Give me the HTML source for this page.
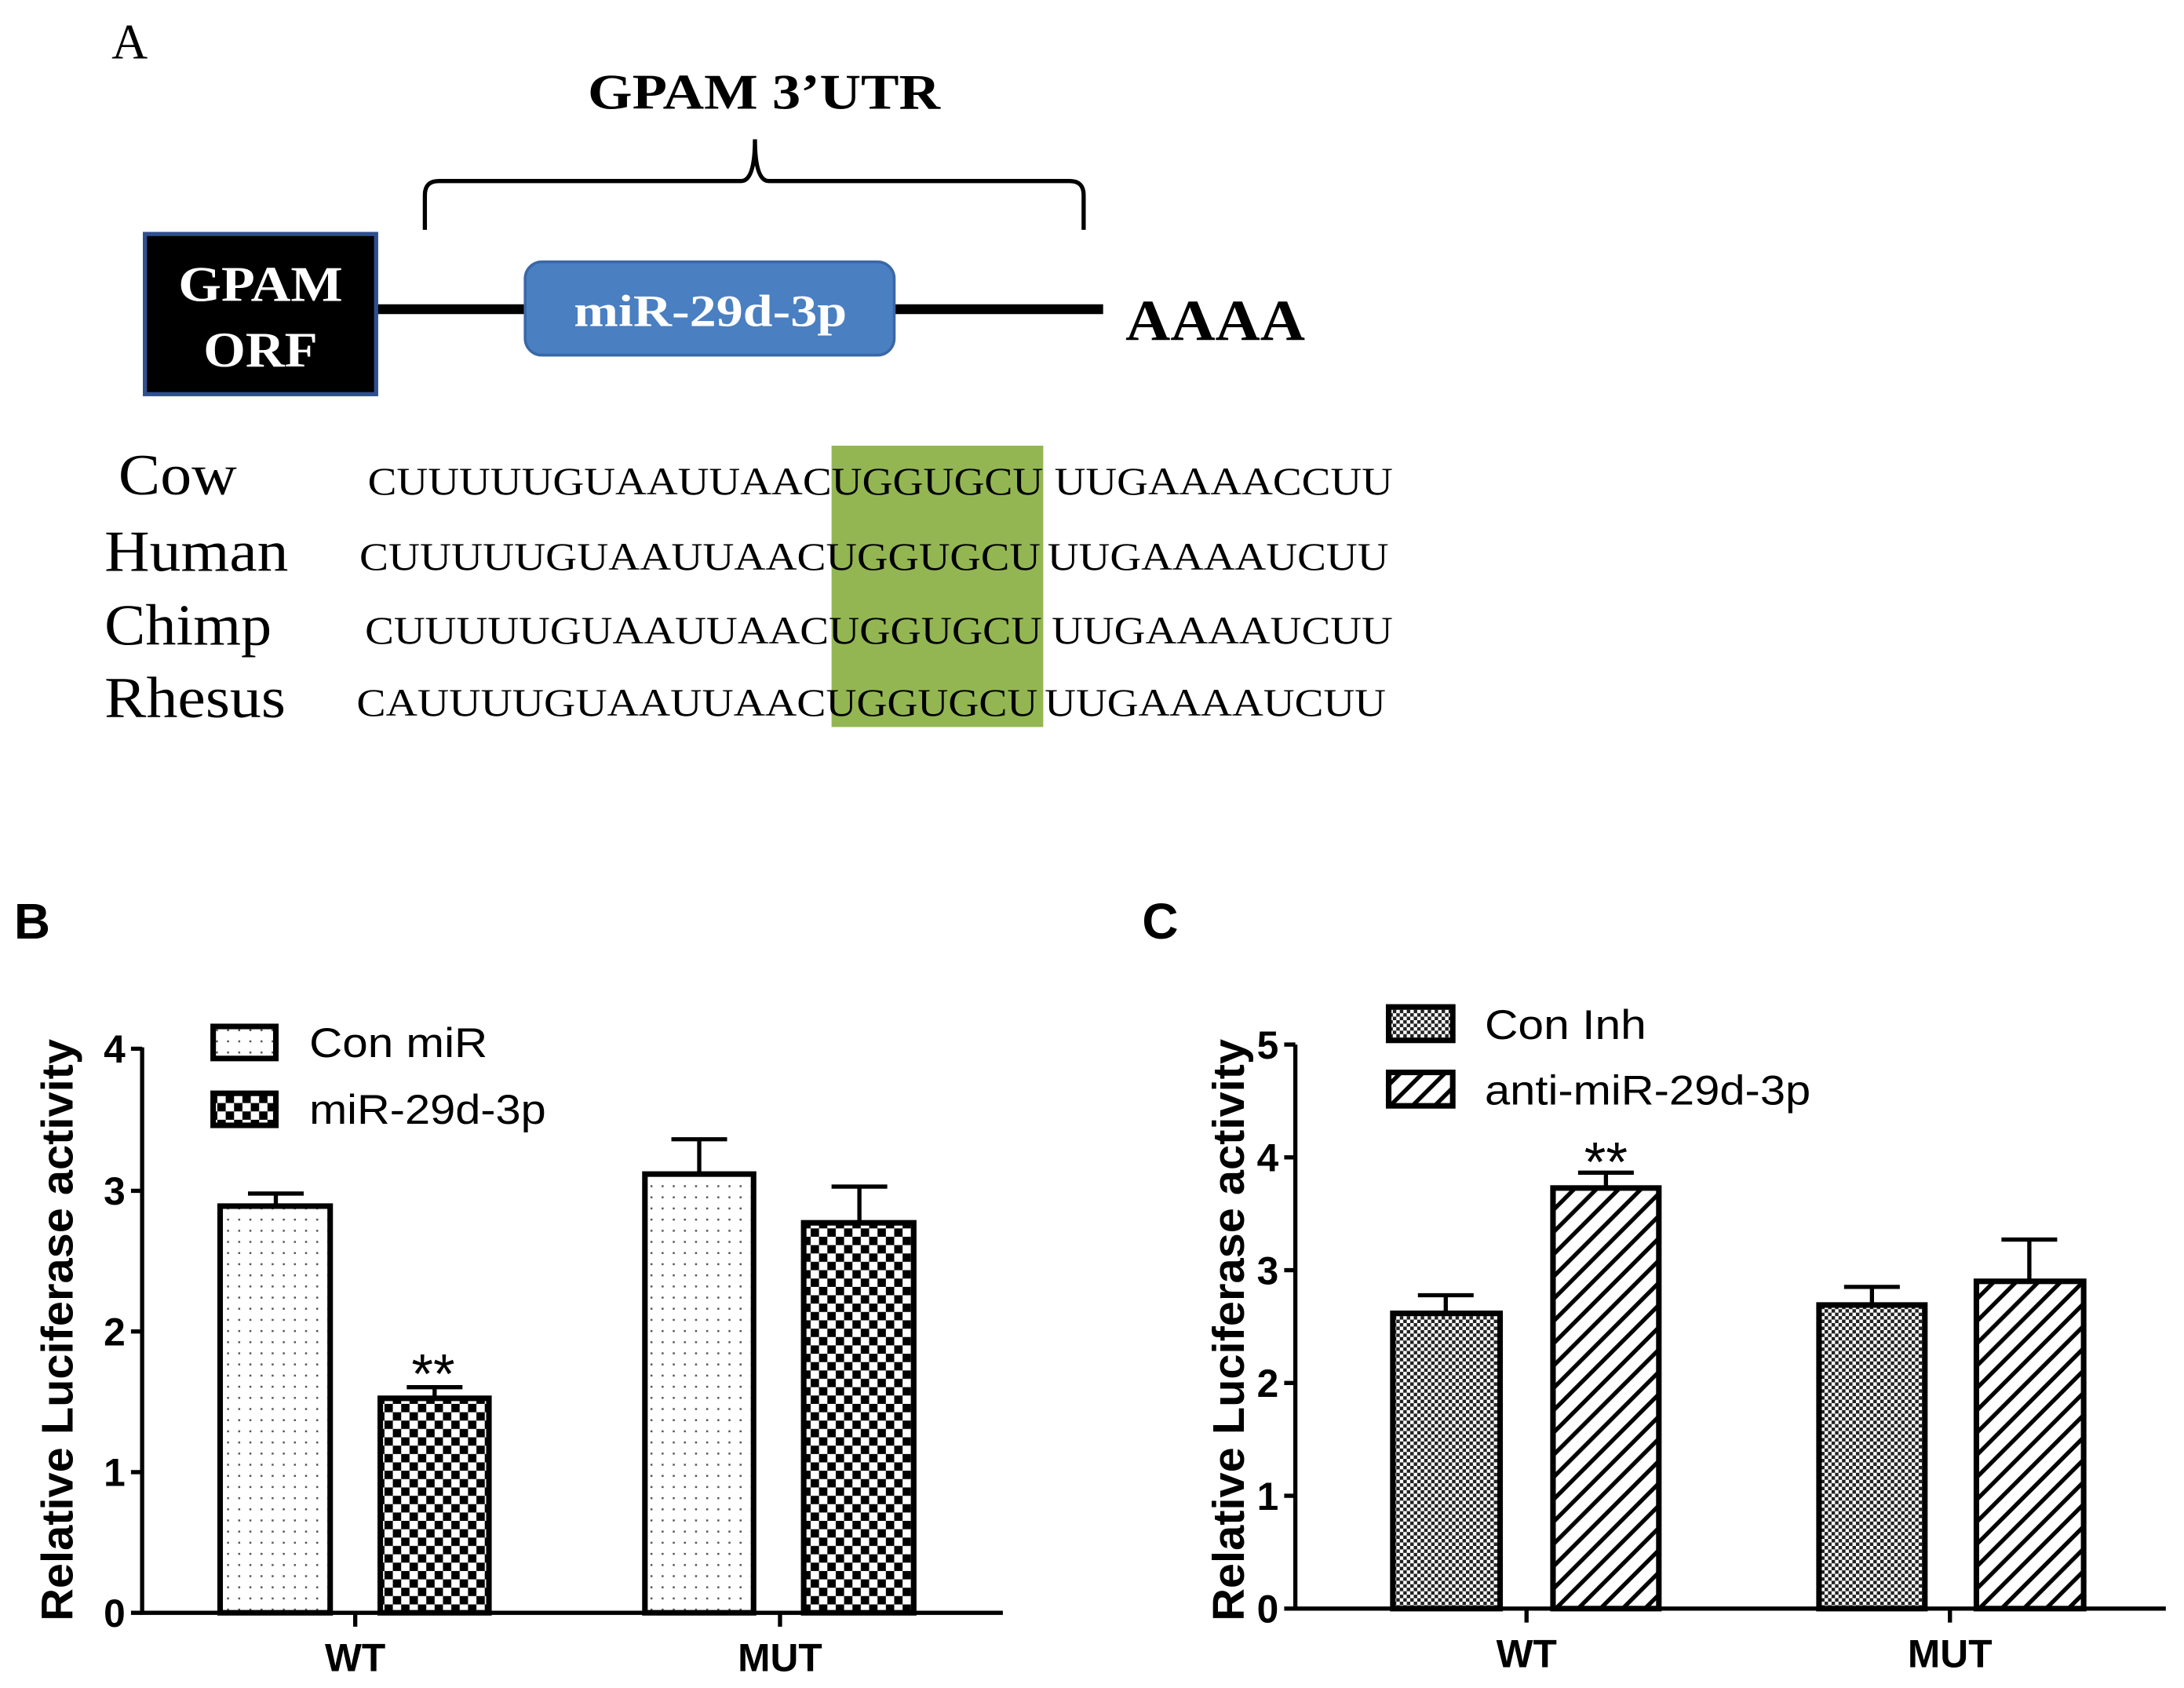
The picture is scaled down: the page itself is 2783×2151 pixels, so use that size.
<!DOCTYPE html>
<html><head><meta charset="utf-8"><style>html,body{margin:0;padding:0;background:#fff}svg{display:block}</style></head>
<body>
<svg width="2783" height="2151" viewBox="0 0 1568 1212" xmlns="http://www.w3.org/2000/svg">
<defs>
<pattern id="dots" width="8" height="8" patternUnits="userSpaceOnUse"><rect width="8" height="8" fill="#fff"/><rect x="3" y="3" width="1.4" height="1.4" fill="#555"/></pattern>
<pattern id="chk" width="12" height="12" patternUnits="userSpaceOnUse"><rect width="12" height="12" fill="#fff"/><rect width="6" height="6" fill="#000"/><rect x="6" y="6" width="6" height="6" fill="#000"/></pattern>
<pattern id="fchk" width="5" height="5" patternUnits="userSpaceOnUse"><rect width="5" height="5" fill="#fff"/><rect width="2.5" height="2.5" fill="#222"/><rect x="2.5" y="2.5" width="2.5" height="2.5" fill="#222"/></pattern>
<pattern id="hatch" width="16" height="16" patternUnits="userSpaceOnUse"><rect width="16" height="16" fill="#fff"/><path d="M-4,20 L20,-4 M-4,4 L4,-4 M12,20 L20,12" stroke="#000" stroke-width="3"/></pattern>
</defs>
<g font-family="Liberation Serif, serif">
<text x="80" y="42" font-size="36">A</text>
<text x="422" y="78" font-size="36" font-weight="bold" textLength="253" lengthAdjust="spacingAndGlyphs">GPAM  3’UTR</text>
<path d="M305,165 L305,140 Q305,130 315,130 L532,130 Q542,130 542,100 Q542,130 552,130 L768,130 Q778,130 778,140 L778,165" fill="none" stroke="#000" stroke-width="3"/>
<line x1="270" y1="222" x2="792" y2="222" stroke="#000" stroke-width="7"/>
<rect x="104" y="168" width="166" height="115" fill="#000" stroke="#2f4f8f" stroke-width="3"/>
<text x="128" y="216" font-size="36" font-weight="bold" fill="#fff" textLength="118" lengthAdjust="spacingAndGlyphs">GPAM</text>
<text x="146" y="263" font-size="36" font-weight="bold" fill="#fff" textLength="82" lengthAdjust="spacingAndGlyphs">ORF</text>
<rect x="377" y="188" width="265" height="67" rx="12" fill="#4a7fc1" stroke="#3a68a6" stroke-width="2"/>
<text x="412" y="234" font-size="32" font-weight="bold" fill="#fff" textLength="196" lengthAdjust="spacingAndGlyphs">miR-29d-3p</text>
<text x="808" y="244" font-size="42" font-weight="bold" textLength="129" lengthAdjust="spacingAndGlyphs">AAAA</text>
<rect x="597" y="320" width="152" height="202" fill="#93b653"/>
<g font-size="42"><text x="85" y="355" textLength="85" lengthAdjust="spacingAndGlyphs">Cow</text><text x="75" y="410" textLength="132" lengthAdjust="spacingAndGlyphs">Human</text><text x="75" y="463" textLength="120" lengthAdjust="spacingAndGlyphs">Chimp</text><text x="75" y="515" textLength="130" lengthAdjust="spacingAndGlyphs">Rhesus</text></g>
<g font-size="28">
<text x="264" y="355" textLength="333" lengthAdjust="spacingAndGlyphs">CUUUUUGUAAUUAAC</text><text x="597" y="355" textLength="152" lengthAdjust="spacingAndGlyphs">UGGUGCU</text><text x="757" y="355" textLength="243" lengthAdjust="spacingAndGlyphs">UUGAAAACCUU</text>
<text x="258" y="409" textLength="335" lengthAdjust="spacingAndGlyphs">CUUUUUGUAAUUAAC</text><text x="593" y="409" textLength="154" lengthAdjust="spacingAndGlyphs">UGGUGCU</text><text x="752" y="409" textLength="245" lengthAdjust="spacingAndGlyphs">UUGAAAAUCUU</text>
<text x="262" y="462" textLength="333" lengthAdjust="spacingAndGlyphs">CUUUUUGUAAUUAAC</text><text x="595" y="462" textLength="153" lengthAdjust="spacingAndGlyphs">UGGUGCU</text><text x="755" y="462" textLength="245" lengthAdjust="spacingAndGlyphs">UUGAAAAUCUU</text>
<text x="256" y="514" textLength="337" lengthAdjust="spacingAndGlyphs">CAUUUUGUAAUUAAC</text><text x="593" y="514" textLength="152" lengthAdjust="spacingAndGlyphs">UGGUGCU</text><text x="750" y="514" textLength="245" lengthAdjust="spacingAndGlyphs">UUGAAAAUCUU</text>
</g>
</g>
<g font-family="Liberation Sans, sans-serif">
<text x="10" y="674" font-size="36" font-weight="bold">B</text>
<text x="820" y="674" font-size="36" font-weight="bold">C</text>
<!-- B -->
<g stroke="#000" stroke-width="3" fill="none">
<path d="M102,752 V1158 H720"/>
<path d="M94,753 H102 M94,855 H102 M94,956 H102 M94,1057 H102 M94,1158 H102 M255,1158 V1168 M560,1158 V1168"/>
<path d="M198,867 V857 M178,857 H218 M312,1004 V996 M292,996 H332 M502,843 V818 M482,818 H522 M617,878 V852 M597,852 H637"/>
</g>
<g stroke="#000" stroke-width="4">
<rect x="158" y="866" width="79" height="292" fill="url(#dots)"/>
<rect x="273" y="1004" width="78" height="154" fill="url(#chk)"/>
<rect x="463" y="843" width="78" height="315" fill="url(#dots)"/>
<rect x="577" y="878" width="79" height="280" fill="url(#chk)"/>
<rect x="153" y="737" width="45" height="23" fill="url(#dots)"/>
<rect x="153" y="785" width="45" height="23" fill="url(#chk)"/>
</g>
<g font-size="28" font-weight="bold" text-anchor="end"><text x="90" y="763">4</text><text x="90" y="865">3</text><text x="90" y="966">2</text><text x="90" y="1067">1</text><text x="90" y="1168">0</text></g>
<text x="222" y="759" font-size="30" textLength="128" lengthAdjust="spacingAndGlyphs">Con miR</text>
<text x="222" y="807" font-size="30" textLength="170" lengthAdjust="spacingAndGlyphs">miR-29d-3p</text>
<text x="311" y="1000" font-size="40" text-anchor="middle">**</text>
<g font-size="28" font-weight="bold" text-anchor="middle"><text x="255" y="1200">WT</text><text x="560" y="1200">MUT</text></g>
<text transform="translate(52,955) rotate(-90)" font-size="32" font-weight="bold" text-anchor="middle" textLength="418" lengthAdjust="spacingAndGlyphs">Relative Luciferase activity</text>
<!-- C -->
<g stroke="#000" stroke-width="3" fill="none">
<path d="M930,750 V1155 H1555"/>
<path d="M922,750 H930 M922,831 H930 M922,912 H930 M922,993 H930 M922,1074 H930 M922,1155 H930 M1096,1155 V1165 M1400,1155 V1165"/>
<path d="M1038,943 V930 M1018,930 H1058 M1153,853 V842 M1133,842 H1173 M1344,937 V924 M1324,924 H1364 M1457,920 V890 M1437,890 H1477"/>
</g>
<g stroke="#000" stroke-width="4">
<rect x="1000" y="943" width="77" height="212" fill="url(#fchk)"/>
<rect x="1115" y="853" width="76" height="302" fill="url(#hatch)"/>
<rect x="1306" y="937" width="76" height="218" fill="url(#fchk)"/>
<rect x="1419" y="920" width="77" height="235" fill="url(#hatch)"/>
<rect x="997" y="723" width="46" height="24" fill="url(#fchk)"/>
<rect x="997" y="770" width="46" height="24" fill="url(#hatch)"/>
</g>
<g font-size="28" font-weight="bold" text-anchor="end"><text x="918" y="760">5</text><text x="918" y="841">4</text><text x="918" y="922">3</text><text x="918" y="1003">2</text><text x="918" y="1084">1</text><text x="918" y="1165">0</text></g>
<text x="1066" y="746" font-size="30" textLength="116" lengthAdjust="spacingAndGlyphs">Con Inh</text>
<text x="1066" y="793" font-size="30" textLength="234" lengthAdjust="spacingAndGlyphs">anti-miR-29d-3p</text>
<text x="1153" y="848" font-size="40" text-anchor="middle">**</text>
<g font-size="28" font-weight="bold" text-anchor="middle"><text x="1096" y="1197">WT</text><text x="1400" y="1197">MUT</text></g>
<text transform="translate(893,955) rotate(-90)" font-size="32" font-weight="bold" text-anchor="middle" textLength="418" lengthAdjust="spacingAndGlyphs">Relative Luciferase activity</text>
</g>
</svg>
</body></html>
